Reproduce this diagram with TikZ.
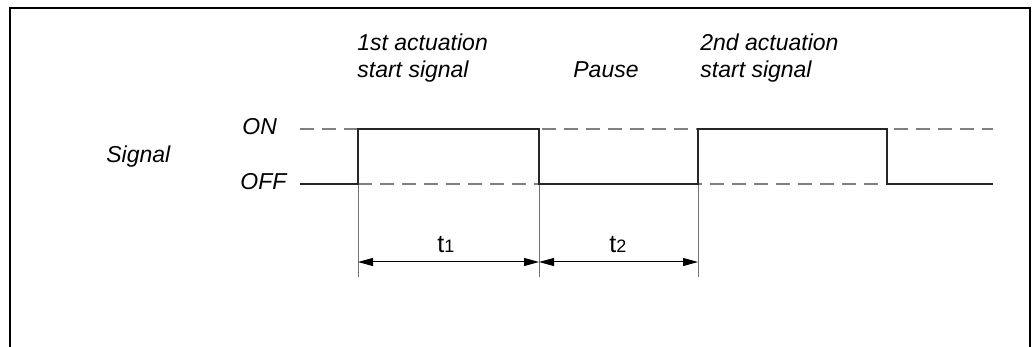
\documentclass[tikz,border=0pt]{standalone}
\usepackage{fontspec}
\setmainfont{Liberation Sans}
\usetikzlibrary{arrows.meta,positioning}

\begin{document}
\begin{tikzpicture}[
  x=0.5pt, y=-0.5pt,
  lbl/.style={font=\itshape\fontsize{11.5}{13.5}\selectfont, inner sep=0pt,
    anchor=base west, align=left},
  tlbl/.style={font=\fontsize{12.5}{13.5}\selectfont, inner sep=0pt, anchor=base west},
  wave/.style={line width=1.1pt, draw=black!85},
  level/.style={line width=0.75pt, draw=black!50, dash pattern=on 7pt off 4pt},
  ext/.style={line width=0.5pt, draw=black!55},
  dim/.style={line width=0.5pt, {Triangle[length=7.5pt,width=4pt]}-{Triangle[length=7.5pt,width=4pt]}},
  frame/.style={line width=1.25pt, draw=black}
]
  \useasboundingbox (0,0) rectangle (1033,347);
  \draw[frame] (10,347) -- (10,8) -- (1030,8) -- (1030,347);

  % levels and edges
  \coordinate (on0) at (300,129);
  \coordinate (on1) at (993,129);
  \coordinate (off0) at (300,184);
  \coordinate (off1) at (993,184);
  \coordinate (r1) at (358,184);
  \coordinate (f1) at (539,184);
  \coordinate (r2) at (698,184);
  \coordinate (f2) at (887,184);
  \coordinate (r1b) at (358,277);
  \coordinate (f1b) at (539,277);
  \coordinate (r2b) at (698,277);
  \coordinate (d1) at (358,262);
  \coordinate (d2) at (539,262);
  \coordinate (d3) at (698,262);

  \node[lbl] (sig) at (106,163) {Signal};
  \node[lbl] (on) at (242,135) {ON};
  \node[lbl] (off) at (240,190) {OFF};
  \node[lbl] (act1) at (357,78) {1st actuation\\start signal};
  \node[lbl] (pause) at (573,78) {Pause};
  \node[lbl] (act2) at (700,78) {2nd actuation\\start signal};
  \node[tlbl] (t1) at (437,253) {t{\fontsize{9}{9}\selectfont 1}};
  \node[tlbl] (t2) at (609,253) {t{\fontsize{9}{9}\selectfont 2}};

  \draw[level] (on0) -- (on1);
  \draw[level] (r1) -- (f2);
  \draw[ext] (r1) -- (r1b);
  \draw[ext] (f1) -- (f1b);
  \draw[ext] (r2) -- (r2b);
  \draw[wave] (off0) -- (r1) |- (on0 -| f1) -- (f1) -- (r2) |- (on0 -| f2) -- (f2) -- (off1);
  \draw[dim] (d1) -- (d2);
  \draw[dim] (d2) -- (d3);
\end{tikzpicture}
\end{document}
